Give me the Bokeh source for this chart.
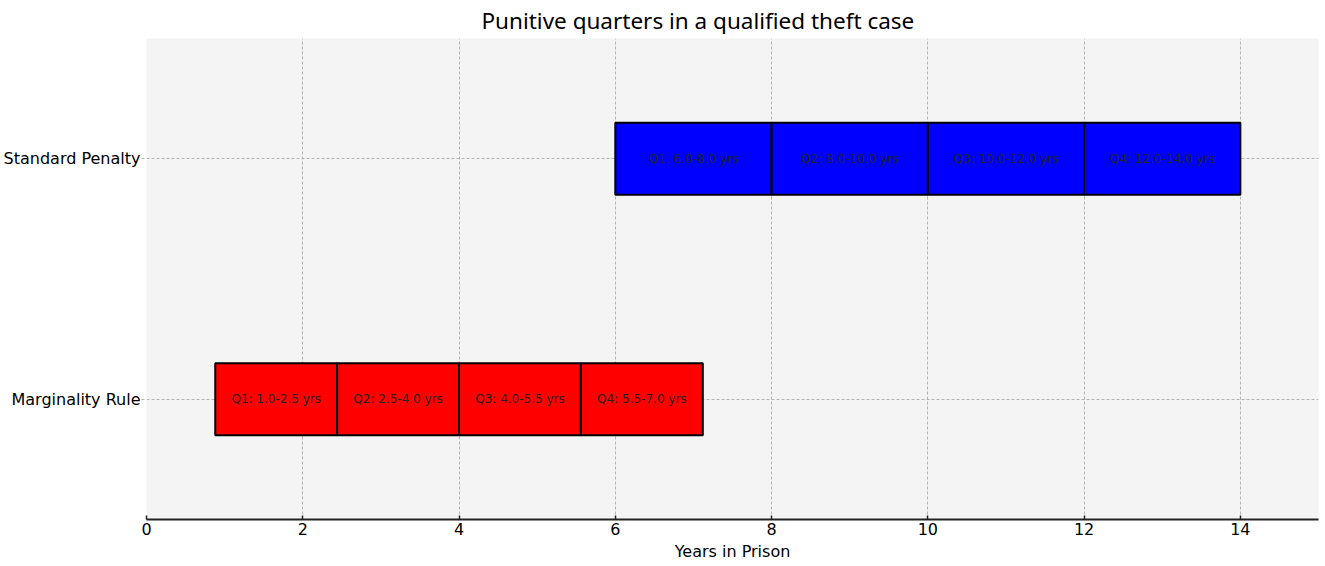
from bokeh.plotting import figure
from bokeh.models import FactorRange, Range1d, FixedTicker, ColumnDataSource
from bokeh.embed import file_html
from bokeh.resources import INLINE
from bokeh.core.properties import value

categories = ["Marginality Rule", "Standard Penalty"]

# Marginality Rule quarters (as drawn)
marg_left = [0.88, 2.44, 4.00, 5.56]
marg_right = [2.44, 4.00, 5.56, 7.12]
marg_labels = ["Q1: 1.0-2.5 yrs", "Q2: 2.5-4.0 yrs", "Q3: 4.0-5.5 yrs", "Q4: 5.5-7.0 yrs"]

# Standard Penalty quarters
std_left = [6.0, 8.0, 10.0, 12.0]
std_right = [8.0, 10.0, 12.0, 14.0]
std_labels = ["Q1: 6.0-8.0 yrs", "Q2: 8.0-10.0 yrs", "Q3: 10.0-12.0 yrs", "Q4: 12.0-14.0 yrs"]

x_ticks = [0, 2, 4, 6, 8, 10, 12, 14]

p = figure(width=1325, height=566, output_backend="svg", toolbar_location=None,
           y_range=FactorRange(*categories), x_range=Range1d(0, 15),
           title="Punitive quarters in a qualified theft case",
           min_border_left=146, min_border_right=7, min_border_top=38, min_border_bottom=47)

p.background_fill_color = "#f4f4f4"
p.border_fill_color = "white"
p.outline_line_color = None

p.title.text_font = "Noto Sans"
p.title.text_font_size = "22.5px"
p.title.text_font_style = "normal"
p.title.align = "left"
p.title.offset = 335
p.title.text_color = "black"
p.title.standoff = 5

for cat, lefts, rights, labels, color in [
    (categories[0], marg_left, marg_right, marg_labels, "#ff0000"),
    (categories[1], std_left, std_right, std_labels, "#0000ff"),
]:
    src = ColumnDataSource(dict(
        y=[cat] * len(lefts), left=lefts, right=rights, labels=labels,
        mid=[(a + b) / 2 for a, b in zip(lefts, rights)],
    ))
    p.hbar(y="y", left="left", right="right", height=0.3, source=src,
           fill_color=color, line_color="black", line_width=2)
    p.text(x="mid", y="y", text="labels", source=src, text_align="center",
           text_baseline="middle", text_font=value("DejaVu Sans"),
           text_font_size="12px", text_color="#222222")

# grid
p.xgrid.ticker = FixedTicker(ticks=x_ticks)
for g in (p.xgrid, p.ygrid):
    g.grid_line_color = "#b4b4b4"
    g.grid_line_dash = "3 2"
    g.grid_line_width = 1

# x axis
xa = p.xaxis[0]
xa.ticker = FixedTicker(ticks=x_ticks)
xa.axis_label = "Years in Prison"
xa.axis_label_text_font = "DejaVu Sans"
xa.axis_label_text_font_size = "16px"
xa.axis_label_text_font_style = "normal"
xa.axis_label_text_color = "black"
xa.axis_label_standoff = 4
xa.major_label_text_font = "DejaVu Sans"
xa.major_label_text_font_size = "16px"
xa.major_label_text_color = "black"
xa.major_label_standoff = 3
xa.axis_line_color = "#222222"
xa.axis_line_width = 2
xa.major_tick_line_color = "#222222"
xa.major_tick_line_width = 1.5
xa.major_tick_in = 4
xa.major_tick_out = 0
xa.minor_tick_line_color = None

# y axis
ya = p.yaxis[0]
ya.axis_line_color = None
ya.major_label_text_font = "DejaVu Sans"
ya.major_label_text_font_size = "16px"
ya.major_label_text_color = "black"
ya.major_label_standoff = 1
ya.major_tick_line_color = "#b4b4b4"
ya.major_tick_line_dash = "3 2"
ya.major_tick_in = 0
ya.major_tick_out = 5

open("out.html", "w").write(file_html(p, INLINE))
